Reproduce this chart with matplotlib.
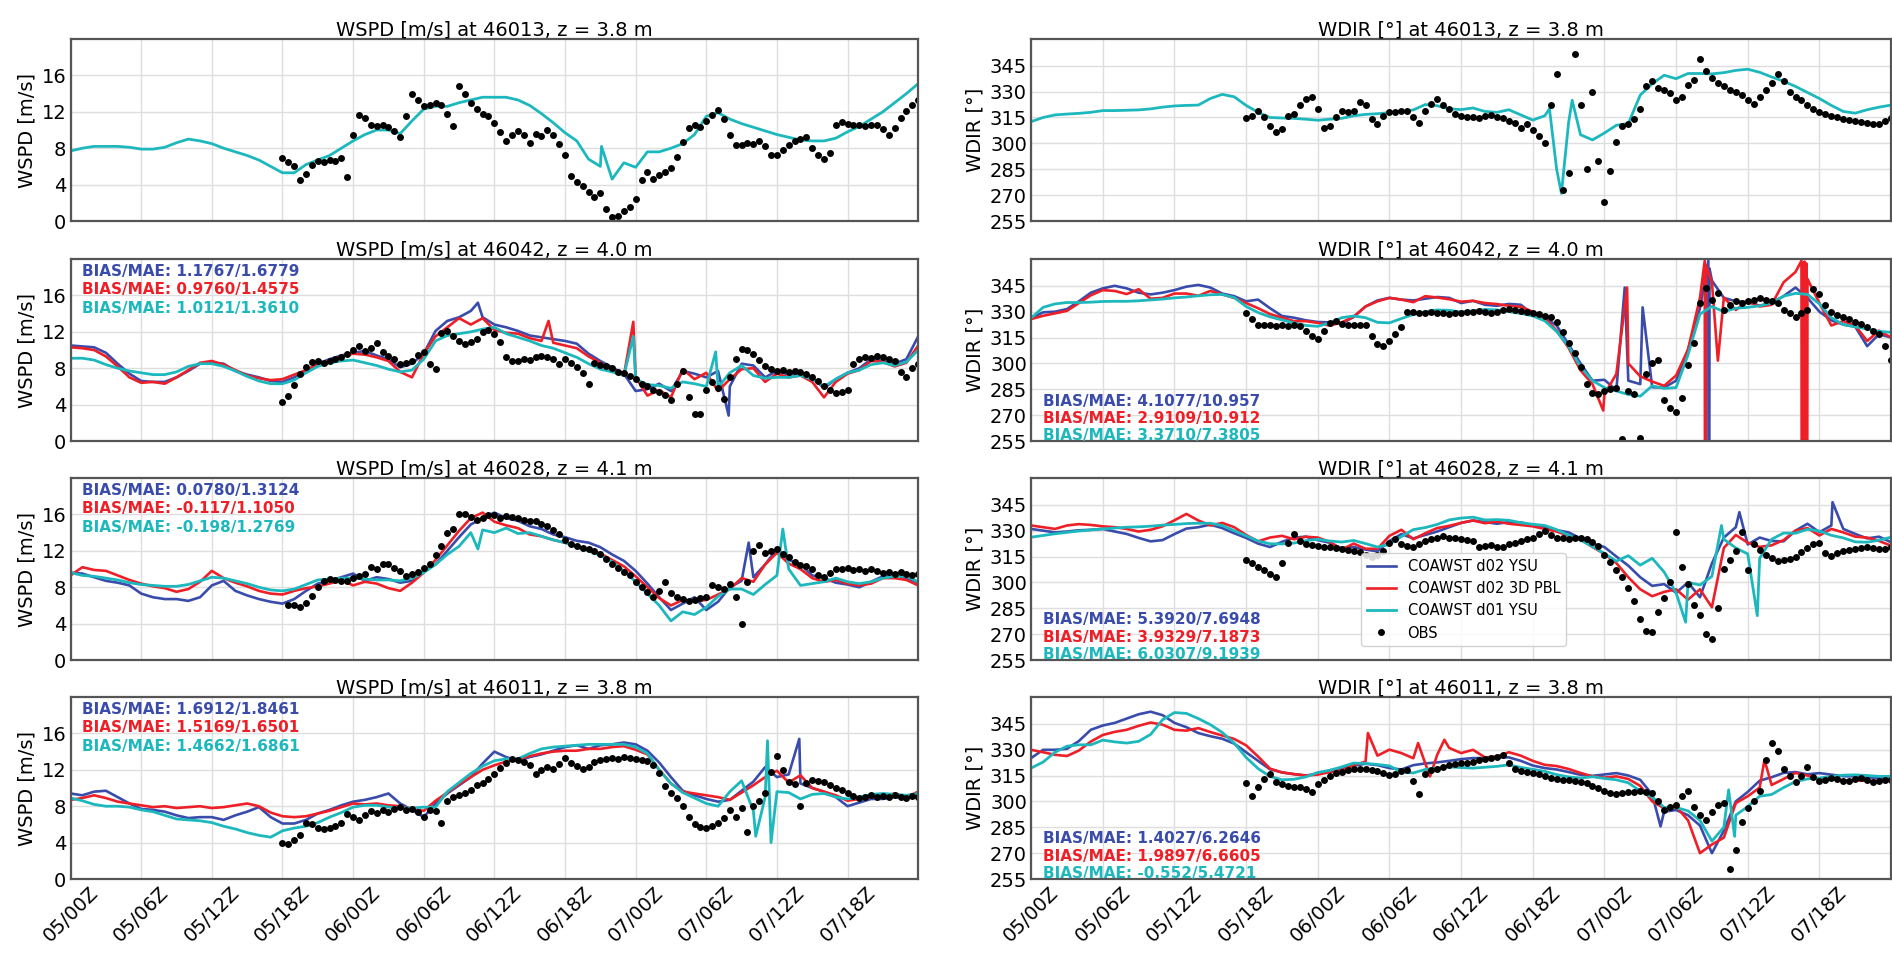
import numpy as np
import matplotlib.pyplot as plt
from matplotlib.ticker import FuncFormatter

# model output is hourly from 05/00Z to 08/00Z, obs every 30 min
# spikes = extra (hour, value) samples read off the plot between the hourly points

# ---------------- 46013 ----------------
wspd_46013_d01 = [7.7, 8.0, 8.2, 8.2, 8.2, 8.1, 7.9, 7.9, 8.1, 8.6,
                  9.0, 8.8, 8.5, 8.0, 7.6, 7.2, 6.7, 6.0, 5.3, 5.3,
                  6.2, 6.7, 7.2, 8.0, 8.8, 9.5, 10.0, 10.0, 9.6, 11.0,
                  12.3, 12.6, 12.6, 13.0, 13.3, 13.6, 13.6, 13.6, 13.3, 12.7,
                  11.8, 10.8, 9.7, 8.8, 6.8, 6.0, 4.6, 6.4, 5.9, 7.6,
                  7.6, 8.0, 8.5, 9.5, 11.5, 11.9, 11.2, 10.7, 10.3, 9.9,
                  9.5, 9.2, 8.9, 8.8, 8.8, 9.1, 9.8, 10.4, 11.2, 12.0,
                  13.0, 14.0, 15.1]
wspd_46013_d01_spikes = [(45.1, 8.2)]
wspd_46013_obs_start = 18.0
wspd_46013_obs = [6.9, 6.5, 6.0, 4.5, 5.2, 6.2, 6.6, 6.5, 6.7, 6.6,
                  6.9, 4.8, 9.5, 11.6, 11.3, 10.6, 10.4, 10.6, 10.3, 9.9,
                  9.2, 11.5, 14.0, 13.3, 12.6, 12.7, 13.0, 12.8, 11.8, 10.4,
                  14.8, 14.0, 13.0, 12.3, 11.8, 11.5, 10.8, 9.8, 8.8, 9.4,
                  9.9, 9.4, 8.6, 9.6, 9.3, 10.0, 9.5, 8.5, 7.2, 5.0,
                  4.3, 3.9, 3.2, 2.6, 3.1, 1.3, 0.4, 0.6, 1.1, 1.5,
                  2.4, 4.5, 5.4, 4.6, 5.1, 5.4, 5.8, 7.0, 8.7, 10.2,
                  10.5, 10.3, 11.0, 11.6, 12.2, 11.2, 9.5, 8.4, 8.3, 8.6,
                  8.5, 8.8, 8.2, 7.3, 7.2, 7.8, 8.4, 8.8, 9.0, 9.2,
                  8.0, 7.2, 6.8, 7.5, 10.6, 10.9, 10.7, 10.5, 10.6, 10.4,
                  10.5, 10.5, 10.1, 9.4, 10.2, 11.3, 12.1, 12.8, 13.3]

wdir_46013_d01 = [312.6, 315.0, 316.5, 317.0, 317.4, 318.0, 319.0, 319.0, 319.2, 319.4,
                  320.0, 321.0, 321.7, 322.0, 322.2, 326.0, 328.4, 327.0, 322.0, 318.0,
                  315.0, 314.7, 314.5, 314.0, 313.4, 314.0, 314.5, 316.0, 316.8, 317.2,
                  317.8, 318.5, 319.4, 322.5, 321.8, 320.0, 319.6, 320.5, 318.5, 318.0,
                  319.5, 316.5, 313.5, 316.0, 285.0, 312.0, 305.0, 302.0, 306.0, 310.5,
                  311.5, 328.0, 334.5, 339.5, 337.5, 340.5, 340.5, 340.3, 341.0, 342.3,
                  343.0, 341.2, 338.5, 336.0, 333.0, 329.5, 326.0, 322.0, 318.5, 317.5,
                  319.5, 321.0, 322.2]
wdir_46013_d01_spikes = [(43.4, 320.0), (44.4, 271.0), (45.3, 325.0)]
wdir_46013_obs_start = 18.0
wdir_46013_obs = [314.5, 316, 319, 315, 310, 306.5, 308.5, 316, 317, 322,
                  326, 327, 320, 309, 310, 315, 319, 318, 319, 324,
                  322, 314, 311, 316, 318, 318, 319, 319, 315, 312,
                  319, 323, 326, 322, 320, 317, 316, 315.5, 315, 314.5,
                  316, 316.5, 315, 314.5, 313, 312, 309, 311, 308, 304,
                  300, 322, 340, 273, 283, 352, 322, 285, 330, 290,
                  266, 284, 301, 310, 311.5, 314, 320, 333, 336, 332,
                  331, 329, 325, 327, 334, 336.5, 349, 342, 338, 335,
                  333, 331, 330, 328, 325, 323, 327, 331, 335, 340,
                  336, 330, 327, 325, 322, 320, 318, 317, 316, 315,
                  314, 313.5, 313, 312.5, 312, 311, 311, 313, 314.5]

# ---------------- 46042 ----------------
wspd_46042_d02_ysu = [10.5, 10.4, 10.3, 9.7, 8.5, 7.4, 6.6, 6.5, 6.5, 7.0,
                      7.7, 8.5, 8.6, 8.5, 7.7, 7.3, 7.0, 6.6, 6.5, 7.0,
                      7.7, 8.5, 9.0, 9.4, 9.7, 9.9, 9.4, 9.0, 8.1, 8.5,
                      9.6, 12.1, 13.2, 13.6, 14.3, 13.6, 12.8, 12.5, 12.1, 11.6,
                      11.4, 11.2, 11.0, 10.7, 9.6, 8.8, 8.1, 7.4, 5.5, 5.7,
                      6.3, 5.5, 7.7, 7.4, 7.0, 7.7, 6.0, 8.5, 8.3, 7.0,
                      7.7, 7.3, 7.5, 7.0, 5.8, 6.8, 7.5, 8.0, 9.0, 8.8,
                      8.5, 9.0, 11.5]
wspd_46042_d02_ysu_spikes = [(34.6, 15.2), (55.9, 2.8)]
wspd_46042_d02_3d = [10.3, 10.2, 10.0, 9.3, 8.2, 7.0, 6.4, 6.5, 6.3, 7.0,
                     7.8, 8.6, 8.8, 8.4, 7.8, 7.2, 6.9, 6.7, 6.8, 7.3,
                     7.8, 8.4, 8.8, 9.3, 9.6, 9.5, 9.2, 8.8, 7.6, 7.0,
                     9.6, 11.5, 12.5, 13.5, 12.8, 13.5, 12.2, 11.9, 11.8, 11.3,
                     11.0, 10.8, 10.5, 10.2, 9.3, 8.6, 7.8, 7.2, 7.0, 5.0,
                     5.6, 4.8, 7.9, 6.8, 7.5, 5.5, 6.8, 7.9, 8.0, 6.5,
                     7.4, 7.0, 7.2, 6.5, 4.8, 6.5, 7.4, 7.8, 8.8, 8.7,
                     8.2, 8.6, 10.5]
wspd_46042_d02_3d_spikes = [(40.6, 13.2), (47.8, 13.1)]
wspd_46042_d01 = [9.1, 9.1, 8.9, 8.4, 8.0, 7.7, 7.5, 7.3, 7.3, 7.6,
                  8.2, 8.5, 8.5, 8.2, 7.7, 7.1, 6.6, 6.3, 6.3, 6.7,
                  7.5, 8.2, 8.6, 8.8, 8.9, 8.6, 8.3, 7.9, 7.6, 7.8,
                  9.0, 11.0, 11.6, 11.8, 12.0, 12.3, 12.5, 11.8, 11.4, 11.0,
                  10.5, 10.2, 9.7, 9.2, 8.5, 7.9, 7.6, 7.2, 6.8, 6.2,
                  6.1, 5.8, 6.5, 6.3, 6.0, 5.9, 7.5, 8.3, 7.2, 6.9,
                  7.0, 7.0, 7.2, 6.8, 6.0, 6.8, 7.5, 7.8, 8.4, 8.6,
                  8.3, 8.7, 10.0]
wspd_46042_d01_spikes = [(47.8, 11.5), (54.8, 9.8)]
wspd_46042_obs_start = 18.0
wspd_46042_obs = [4.3, 5.0, 6.2, 7.4, 8.1, 8.7, 8.8, 8.6, 8.8, 9.0,
                  9.2, 9.6, 10.0, 10.5, 9.9, 10.2, 10.8, 9.8, 9.3, 9.0,
                  8.5, 8.6, 8.8, 9.5, 9.8, 8.5, 7.9, 11.9, 12.1, 11.5,
                  11.0, 10.7, 10.9, 11.2, 12.0, 12.2, 11.8, 10.9, 9.2, 8.8,
                  8.8, 9.0, 8.9, 9.2, 9.4, 9.2, 9.0, 8.5, 9.0, 8.6,
                  8.1, 7.5, 6.3, 8.6, 8.4, 8.2, 8.0, 7.6, 7.5, 7.2,
                  6.8, 6.3, 6.0, 5.6, 5.4, 5.1, 4.5, 6.3, 7.7, 4.8,
                  3.0, 3.0, 5.6, 6.5, 5.8, 4.6, 7.0, 9.0, 10.1, 10.0,
                  9.6, 8.9, 8.3, 7.9, 7.7, 7.8, 7.6, 7.7, 7.6, 7.4,
                  7.0, 6.6, 6.0, 5.6, 5.3, 5.4, 5.6, 8.5, 9.0, 9.2,
                  9.1, 9.3, 9.2, 9.0, 8.8, 7.6, 7.0, 8.0, 8.5]

wdir_46042_d02_ysu = [326.3, 329.6, 330.0, 331.5, 336.0, 341.0, 343.5, 345.0, 343.5, 341.0,
                      340.0, 341.0, 342.5, 344.5, 345.5, 344.0, 340.5, 339.0, 336.0, 337.0,
                      332.0, 327.5, 326.5, 325.0, 324.0, 323.8, 323.0, 327.0, 333.0, 336.5,
                      338.0, 337.0, 336.5, 337.5, 338.5, 338.0, 335.0, 336.3, 334.0, 333.4,
                      334.5, 334.0, 328.5, 326.7, 322.0, 311.0, 300.0, 290.0, 290.5, 284.5,
                      290.0, 288.0, 286.2, 286.0, 290.0, 308.0, 332.0, 348.0, 338.0, 336.0,
                      335.5, 333.5, 335.0, 339.0, 344.0, 338.0, 330.0, 325.0, 322.5, 321.3,
                      310.0, 317.0, 315.0]
wdir_46042_d02_ysu_spikes = [(49.7, 344.0), (51.2, 332.5), (56.7, 359.5), (56.75, 2.0), (56.8, 355.0)]
wdir_46042_d02_3d = [325.7, 327.6, 329.0, 330.5, 335.0, 339.5, 342.5, 342.0, 340.2, 343.0,
                     337.5, 338.0, 340.5, 340.5, 339.2, 342.0, 340.0, 338.0, 335.0, 332.0,
                     328.6, 326.5, 324.5, 324.5, 323.5, 321.9, 323.8, 327.0, 333.0, 336.0,
                     338.0, 337.0, 335.5, 339.0, 338.2, 337.2, 335.8, 336.3, 335.0, 334.4,
                     333.4, 332.8, 330.0, 326.5, 319.0, 309.0, 296.0, 288.0, 282.0, 293.9,
                     300.0, 292.5, 289.5, 287.0, 293.0, 308.0, 338.0, 347.0, 338.2, 331.0,
                     336.0, 333.0, 334.0, 347.0, 353.0, 349.0, 335.0, 322.0, 324.5, 322.0,
                     313.0, 319.0, 315.0]
wdir_46042_d02_3d_spikes = [(47.9, 272.7), (49.9, 344.0), (56.4, 359.5), (56.45, 2.0), (56.5, 357.0),
                            (57.5, 301.6), (64.5, 359.5), (64.55, 3.0), (64.6, 358.0), (64.7, 2.0),
                            (64.75, 359.0), (64.85, 1.0), (64.9, 358.0), (64.95, 4.0)]
wdir_46042_d01 = [326.3, 332.5, 334.5, 335.3, 335.3, 335.5, 335.9, 336.0, 336.0, 336.3,
                  336.8, 337.3, 338.0, 338.5, 339.2, 339.8, 340.0, 338.2, 333.0, 329.5,
                  327.0, 325.2, 323.5, 322.0, 321.5, 323.5, 326.5, 327.5, 326.5, 323.8,
                  323.5, 326.0, 328.4, 330.0, 331.0, 330.8, 329.8, 330.5, 331.3, 331.0,
                  330.0, 329.0, 327.5, 324.7, 318.5, 310.0, 298.0, 290.0, 286.0, 284.0,
                  282.0, 281.0, 287.0, 285.5, 286.0, 305.0, 328.6, 333.0, 330.0, 332.0,
                  332.5, 333.4, 335.0, 339.0, 340.6, 340.0, 334.5, 326.5, 322.5, 321.2,
                  320.0, 318.6, 318.0]
wdir_46042_d01_spikes = []
wdir_46042_obs_start = 18.0
wdir_46042_obs = [329, 326, 322.5, 322, 322, 321.5, 322, 321.5, 322, 321.5,
                  319, 316, 314, 319, 323.5, 324.5, 323, 322, 322, 322.5,
                  322.5, 316, 311, 310, 313, 317, 321, 330, 330, 329.5,
                  329.5, 330, 329.5, 329, 328.5, 329, 329.5, 330, 330, 330.5,
                  330, 329.5, 330, 331, 331.5, 331, 330.5, 330, 329, 328.5,
                  327.5, 327, 324, 318, 312, 306, 298, 288, 283, 282,
                  284, 285, 286, 256, 284, 282, 257, 294, 300, 302,
                  279, 274, 272, 280, 299, 312, 335, 344, 337, 341,
                  331, 334, 336, 335, 336, 337, 338, 337, 336, 335,
                  331, 329, 327, 329, 331, 343, 340, 334, 330, 328,
                  327, 326, 324, 323, 321, 319, 317, 310, 302]

# ---------------- 46028 ----------------
wspd_46028_d02_ysu = [9.6, 9.5, 9.1, 8.7, 8.5, 8.2, 7.3, 6.9, 6.7, 6.7,
                      6.5, 6.9, 8.2, 8.7, 7.6, 7.1, 6.7, 6.4, 6.2, 6.7,
                      7.6, 8.4, 8.7, 9.1, 9.5, 8.7, 9.1, 8.9, 8.5, 8.7,
                      9.8, 10.5, 12.0, 13.5, 14.9, 15.6, 16.2, 15.6, 15.3, 14.7,
                      14.4, 13.8, 13.5, 13.1, 12.9, 12.4, 11.6, 10.9, 9.8, 8.4,
                      6.9, 5.5, 6.2, 6.9, 5.5, 6.4, 8.0, 8.7, 9.1, 10.5,
                      12.2, 11.0, 10.5, 9.3, 9.0, 8.5, 8.3, 8.0, 8.6, 9.2,
                      9.4, 9.0, 8.5]
wspd_46028_d02_ysu_spikes = [(57.6, 12.9)]
wspd_46028_d02_3d = [9.3, 10.2, 9.9, 9.8, 9.3, 8.8, 8.4, 8.1, 7.9, 7.5,
                     7.8, 8.6, 9.8, 9.0, 8.5, 8.1, 7.6, 7.3, 7.2, 7.6,
                     7.9, 8.1, 8.4, 8.8, 8.2, 8.6, 8.4, 7.9, 7.6, 8.5,
                     9.6, 11.0, 12.6, 14.2, 15.6, 16.2, 15.2, 14.8, 14.5, 13.8,
                     13.6, 13.2, 12.9, 12.5, 12.2, 11.7, 11.0, 10.3, 9.2, 8.0,
                     6.8, 6.0, 6.6, 6.5, 6.6, 7.2, 7.8, 9.0, 8.6, 10.5,
                     11.8, 10.6, 10.0, 9.0, 8.6, 8.8, 8.4, 8.2, 8.4, 9.0,
                     9.0, 8.8, 8.2]
wspd_46028_d02_3d_spikes = []
wspd_46028_d01 = [9.6, 9.3, 9.2, 9.0, 8.8, 8.5, 8.3, 8.2, 8.1, 8.1,
                  8.3, 8.7, 9.1, 9.0, 8.7, 8.4, 8.0, 7.7, 7.6, 7.8,
                  8.3, 8.8, 8.9, 9.0, 9.0, 8.9, 8.8, 8.8, 8.7, 9.0,
                  9.6, 10.5, 11.6, 12.5, 14.0, 14.3, 14.0, 14.5, 13.9, 14.0,
                  13.6, 13.2, 12.9, 12.4, 12.0, 11.5, 10.8, 9.8, 8.6, 7.3,
                  6.0, 4.3, 5.3, 5.0, 5.8, 7.0, 7.8, 7.8, 7.2, 8.3,
                  9.3, 10.0, 8.2, 8.4, 8.6, 9.0, 8.6, 8.4, 8.6, 9.0,
                  9.2, 9.2, 8.6]
wspd_46028_d01_spikes = [(34.6, 12.2), (60.5, 14.4)]
wspd_46028_obs_start = 18.5
wspd_46028_obs = [6.1, 6.0, 5.8, 6.3, 7.0, 8.0, 8.7, 8.9, 8.8, 8.7,
                  8.7, 9.0, 9.2, 9.4, 10.2, 10.0, 10.6, 10.5, 10.1, 9.8,
                  9.2, 9.4, 9.7, 10.1, 10.6, 11.5, 12.5, 14.0, 14.4, 16.1,
                  16.0, 15.7, 15.4, 15.6, 15.9, 15.9, 15.6, 15.8, 15.7, 15.6,
                  15.4, 15.3, 15.3, 15.0, 14.7, 14.3, 13.9, 13.2, 12.8, 12.5,
                  12.3, 12.2, 12.0, 11.6, 11.1, 10.6, 10.1, 9.7, 9.3, 8.6,
                  8.0, 7.5, 6.9, 7.6, 8.6, 7.4, 6.9, 6.7, 6.5, 6.6,
                  6.8, 6.9, 8.2, 8.0, 7.8, 8.4, 6.9, 4.0, 8.6, 12.0,
                  12.6, 11.8, 12.0, 12.2, 11.6, 11.3, 10.8, 10.4, 10.3, 10.0,
                  9.3, 9.1, 9.6, 10.0, 10.0, 10.1, 9.9, 10.0, 9.8, 10.0,
                  9.8, 9.6, 9.7, 9.5, 9.7, 9.5, 9.3, 9.4]

wdir_46028_d02_ysu = [331.0, 330.0, 329.0, 329.5, 330.2, 330.5, 331.0, 329.5, 328.1, 325.8,
                      323.8, 324.5, 328.0, 331.2, 332.0, 333.5, 331.5, 328.5, 325.8, 322.5,
                      320.5, 323.5, 326.0, 326.5, 324.5, 323.0, 319.8, 320.5, 319.0, 318.0,
                      324.0, 328.0, 325.5, 327.5, 329.5, 332.0, 334.5, 335.9, 335.0, 334.0,
                      335.0, 334.8, 333.0, 332.0, 330.3, 329.0, 325.5, 322.5, 320.5, 315.0,
                      309.7, 303.0, 298.0, 299.0, 294.0, 300.0, 291.4, 311.0, 326.0, 332.0,
                      322.0, 326.0, 324.0, 323.8, 330.0, 334.0, 329.1, 333.0, 331.0, 328.1,
                      325.5, 326.5, 323.3]
wdir_46028_d02_ysu_spikes = [(59.3, 340.7), (67.1, 346.5)]
wdir_46028_d02_3d = [333.0, 332.0, 331.0, 333.0, 333.8, 333.3, 332.5, 332.0, 331.0, 329.5,
                     330.5, 332.5, 336.0, 339.7, 335.9, 333.0, 334.5, 332.0, 327.5, 323.8,
                     326.0, 327.0, 325.0, 326.5, 326.0, 323.5, 319.0, 322.5, 319.5, 319.5,
                     327.0, 330.5, 325.0, 328.5, 331.5, 332.8, 334.5, 335.9, 334.3, 335.3,
                     334.0, 333.3, 332.5, 331.0, 329.5, 327.0, 325.0, 320.5, 316.5, 311.2,
                     303.0, 296.0, 292.0, 294.5, 296.0, 290.0, 296.0, 285.6, 320.0, 327.5,
                     323.0, 320.6, 321.5, 324.5, 330.0, 331.5, 327.2, 331.0, 329.0, 326.5,
                     326.0, 324.0, 321.3]
wdir_46028_d02_3d_spikes = []
wdir_46028_d01 = [326.2, 327.2, 328.2, 329.0, 329.8, 330.4, 331.0, 331.5, 332.0, 332.2,
                  332.6, 333.2, 333.6, 334.1, 334.3, 334.3, 333.0, 330.0, 327.0, 324.0,
                  322.4, 322.3, 322.8, 324.2, 325.0, 324.0, 323.4, 324.3, 322.5, 320.5,
                  322.0, 326.6, 330.6, 331.8, 333.6, 336.2, 337.3, 337.8, 336.2, 336.4,
                  336.0, 334.6, 333.7, 333.0, 330.6, 327.4, 324.5, 320.8, 316.8, 312.3,
                  315.5, 310.0, 314.0, 306.0, 294.0, 300.0, 298.5, 303.5, 325.0, 320.0,
                  316.5, 314.0, 325.0, 328.6, 328.5, 330.8, 329.8, 327.3, 325.8, 323.5,
                  323.3, 324.5, 326.2]
wdir_46028_d01_spikes = [(54.8, 276.9), (57.8, 333.0), (60.8, 280.7)]
wdir_46028_obs_start = 18.0
wdir_46028_obs = [313, 311.5, 309, 307, 305, 303, 311, 323, 328, 324,
                  322, 321.5, 321, 320.5, 320.5, 320, 319.5, 318.5, 318, 317.5,
                  316, 314.5, 316, 318, 323, 325, 322, 321, 320.5, 322,
                  324, 325, 326, 327, 326, 325.5, 325, 324.5, 324, 320.5,
                  321, 321.5, 320.5, 320.5, 322, 323, 324, 325, 326, 328,
                  330, 327.5, 326, 325.5, 325, 325.5, 326, 325, 323.5, 321,
                  316, 312, 307, 303, 297, 289, 279, 272, 271, 283,
                  291, 300, 329, 309, 299, 287, 281, 270, 267, 285,
                  308, 313, 318, 329, 307, 322, 319, 316, 314, 312.5,
                  313, 313.5, 315, 317.5, 320, 322, 323, 317, 315.5, 317,
                  318, 318.5, 319.5, 320, 320.5, 320, 319.5, 319.5, 320.5]

# ---------------- 46011 ----------------
wspd_46011_d02_ysu = [9.4, 9.2, 9.6, 9.7, 9.0, 8.3, 7.7, 7.6, 7.4, 7.0,
                      6.7, 6.8, 6.8, 6.5, 7.0, 7.4, 7.9, 6.8, 6.1, 6.1,
                      6.5, 7.2, 7.6, 8.1, 8.5, 8.7, 9.0, 9.4, 8.3, 7.6,
                      6.8, 8.3, 9.4, 10.3, 11.2, 12.7, 14.0, 13.4, 13.0, 13.4,
                      13.7, 14.1, 14.5, 14.7, 14.3, 14.7, 14.8, 15.0, 14.8, 14.1,
                      12.8, 11.2, 9.7, 9.2, 8.8, 8.5, 8.7, 9.7, 10.7, 12.3,
                      11.2, 11.5, 10.5, 10.0, 9.6, 9.0, 8.0, 8.4, 8.8, 8.8,
                      9.0, 8.9, 9.4]
wspd_46011_d02_ysu_spikes = [(61.9, 15.4)]
wspd_46011_d02_3d = [8.7, 8.9, 9.2, 8.9, 8.5, 8.3, 8.1, 7.9, 8.0, 7.8,
                     7.9, 8.0, 7.8, 7.9, 8.1, 8.3, 8.0, 7.3, 6.9, 6.8,
                     6.9, 7.2, 7.5, 7.9, 8.3, 8.2, 8.3, 8.1, 8.0, 7.7,
                     7.5, 8.6, 9.5, 10.4, 11.2, 12.0, 12.5, 12.9, 13.2, 13.5,
                     13.8, 14.0, 14.1, 14.1, 14.3, 14.3, 14.5, 14.6, 14.2, 13.7,
                     12.0, 10.5, 9.6, 9.4, 9.2, 9.0, 8.7, 9.5, 10.3, 11.2,
                     11.9, 10.6, 11.4, 10.0, 9.6, 9.2, 8.6, 8.8, 9.0, 9.1,
                     9.4, 9.0, 9.6]
wspd_46011_d02_3d_spikes = []
wspd_46011_d01 = [8.9, 8.6, 8.2, 8.0, 8.0, 7.9, 7.6, 7.4, 7.0, 6.6,
                  6.5, 6.4, 6.2, 5.8, 5.5, 5.1, 4.8, 4.6, 5.3, 5.6,
                  5.8, 6.2, 6.8, 7.3, 7.9, 8.1, 8.1, 7.9, 7.8, 7.8,
                  7.9, 7.9, 9.6, 10.6, 11.6, 12.4, 13.0, 13.2, 13.2, 13.8,
                  14.3, 14.5, 14.6, 14.7, 14.8, 14.8, 14.8, 14.8, 14.5, 13.8,
                  12.0, 10.5, 9.5, 8.9, 8.3, 8.0, 9.6, 10.8, 7.5, 9.0,
                  9.6, 9.5, 8.8, 9.3, 9.4, 9.0, 8.8, 9.0, 9.3, 9.4,
                  9.3, 9.2, 9.4]
wspd_46011_d01_spikes = [(58.2, 4.7), (59.2, 15.2), (59.5, 4.0)]
wspd_46011_obs_start = 18.0
wspd_46011_obs = [4.0, 3.8, 4.3, 4.8, 6.2, 6.0, 5.6, 5.5, 5.6, 5.8,
                  6.2, 7.2, 6.8, 6.5, 7.0, 7.5, 7.3, 7.6, 7.4, 7.7,
                  7.9, 7.6, 7.7, 7.4, 6.8, 7.6, 7.5, 6.2, 8.6, 9.0,
                  9.2, 9.5, 9.8, 10.3, 10.6, 11.0, 11.5, 12.2, 12.8, 13.2,
                  13.1, 12.9, 12.5, 11.5, 12.0, 12.3, 12.1, 12.6, 13.3, 12.8,
                  12.4, 12.1, 12.3, 12.9, 13.1, 13.2, 13.3, 13.2, 13.4, 13.3,
                  13.2, 13.1, 13.0, 12.5, 11.6, 10.2, 9.5, 8.9, 8.0, 6.8,
                  6.0, 5.7, 5.6, 5.8, 6.2, 6.7, 7.6, 6.8, 7.8, 5.2,
                  8.0, 8.6, 9.4, 11.8, 13.5, 12.0, 10.7, 10.4, 8.0, 10.6,
                  10.9, 10.8, 10.7, 10.3, 10.0, 9.8, 9.5, 9.1, 8.9, 9.0,
                  9.2, 9.0, 9.1, 9.0, 9.2, 9.0, 8.9, 9.1, 9.0]

wdir_46011_d02_ysu = [325.1, 329.9, 329.9, 330.5, 335.0, 341.5, 344.0, 345.5, 348.0, 350.5,
                      352.0, 350.0, 345.5, 343.0, 339.6, 337.8, 336.3, 333.5, 328.5, 323.5,
                      318.6, 316.8, 315.8, 315.0, 316.0, 318.0, 319.2, 320.7, 321.8, 321.0,
                      319.3, 318.5, 321.0, 322.0, 322.6, 323.5, 324.5, 325.1, 325.1, 325.7,
                      325.5, 323.5, 320.8, 319.3, 318.5, 317.0, 315.4, 314.8, 315.6, 316.4,
                      315.0, 312.5, 304.0, 294.0, 295.0, 292.0, 286.0, 270.0, 283.0, 300.0,
                      305.5, 312.0, 314.0, 316.5, 317.0, 315.7, 316.4, 315.5, 314.6, 314.5,
                      314.0, 313.5, 313.5]
wdir_46011_d02_ysu_spikes = [(52.7, 285.5)]
wdir_46011_d02_3d = [329.9, 328.5, 327.0, 326.3, 329.5, 334.7, 338.5, 340.3, 341.5, 343.8,
                     345.7, 344.5, 341.5, 341.0, 342.5, 340.2, 338.2, 336.2, 332.5, 326.0,
                     319.0, 316.8, 315.8, 315.0, 315.5, 317.0, 318.0, 321.0, 323.0, 326.5,
                     330.0, 328.0, 325.0, 322.0, 327.0, 331.0, 328.0, 329.9, 325.5, 326.0,
                     328.5, 326.5, 323.5, 321.2, 320.5, 318.8, 316.5, 314.5, 313.8, 314.5,
                     313.0, 309.0, 300.0, 296.0, 297.1, 289.0, 270.0, 275.0, 279.0, 299.0,
                     303.0, 308.0, 309.5, 313.0, 316.5, 315.0, 312.5, 314.2, 312.0, 312.3,
                     311.8, 312.0, 312.5]
wdir_46011_d02_3d_spikes = [(28.2, 339.6), (32.4, 333.8), (33.4, 314.5), (34.6, 335.7), (61.4, 324.1)]
wdir_46011_d01 = [319.3, 322.8, 328.5, 332.0, 332.8, 332.8, 335.5, 334.5, 333.8, 334.8,
                  338.8, 347.3, 351.5, 351.0, 348.0, 344.5, 340.0, 333.8, 325.5, 319.0,
                  314.5, 312.5, 312.8, 314.2, 316.8, 318.0, 320.0, 322.2, 322.0, 321.4,
                  320.6, 317.0, 316.5, 318.5, 319.3, 320.0, 319.6, 319.3, 319.8, 320.3,
                  321.2, 319.7, 318.6, 317.4, 315.5, 314.2, 313.5, 314.3, 313.3, 312.5,
                  310.8, 306.0, 302.5, 296.5, 296.5, 294.5, 289.0, 277.0, 285.0, 292.0,
                  297.0, 303.0, 304.0, 308.0, 311.5, 313.0, 313.5, 314.5, 315.2, 315.4,
                  315.0, 314.5, 314.5]
wdir_46011_d01_spikes = [(58.4, 306.7), (58.9, 279.7)]
wdir_46011_obs_start = 18.0
wdir_46011_obs = [310.5, 303, 308.5, 313, 316, 311, 310, 309, 308.5, 308.5,
                  307, 305.5, 310, 312.5, 315, 316.5, 317, 318, 318.5, 319,
                  319, 318, 317.5, 316.5, 315.5, 316, 317.5, 318, 312, 304,
                  316, 318, 319, 320, 321, 321.5, 322, 322.5, 323, 324,
                  324.5, 325, 326, 327, 322, 319, 317.5, 317, 316.5, 316,
                  315, 313.5, 313, 312.5, 312.5, 312, 311.5, 310.5, 309, 307.5,
                  306, 305, 304.5, 305, 305.5, 305.5, 306, 305.5, 305, 300,
                  295, 297, 298, 303, 306, 297, 292, 289, 294, 298,
                  299, 261, 272, 288, 296, 300, 306, 324, 334, 329,
                  319, 315, 311, 315, 320, 314, 312, 312.5, 313.5, 313,
                  312, 312, 313, 313.5, 312.5, 311.5, 312, 312.5, 312.5]

stations = ['46013', '46042', '46028', '46011']
heights = ['3.8', '4.0', '4.1', '3.8']

stats_wspd = {
    '46042': ['1.1767/1.6779', '0.9760/1.4575', '1.0121/1.3610'],
    '46028': ['0.0780/1.3124', '-0.117/1.1050', '-0.198/1.2769'],
    '46011': ['1.6912/1.8461', '1.5169/1.6501', '1.4662/1.6861'],
}
stats_wdir = {
    '46042': ['4.1077/10.957', '2.9109/10.912', '3.3710/7.3805'],
    '46028': ['5.3920/7.6948', '3.9329/7.1873', '6.0307/9.1939'],
    '46011': ['1.4027/6.2646', '1.9897/6.6605', '-0.552/5.4721'],
}

c_ysu = '#3a4cab'
c_3d = '#ee1f26'
c_d01 = '#1cb8bd'
run_colors = [c_ysu, c_3d, c_d01]
run_labels = ['COAWST d02 YSU', 'COAWST d02 3D PBL', 'COAWST d01 YSU']


def with_spikes(vals, spikes):
    t = np.arange(len(vals), dtype=float)
    v = np.array(vals, dtype=float)
    if spikes:
        st, sv = zip(*spikes)
        t = np.concatenate([t, st])
        v = np.concatenate([v, sv])
        o = np.argsort(t, kind='stable')
        t, v = t[o], v[o]
    return t, v


def hour_label(h, pos):
    h = int(round(h))
    return '%02d/%02dZ' % (5 + h // 24, h % 24)


g = globals()
fig = plt.figure(figsize=(18.92, 9.63), dpi=100)
lefts = [0.0373, 0.545]
widths = [0.448, 0.4545]
bottoms = [0.7705, 0.542, 0.3146, 0.0872]
ax_h = 0.189

for row, st in enumerate(stations):
    for col, var in enumerate(['wspd', 'wdir']):
        ax = fig.add_axes([lefts[col], bottoms[row], widths[col], ax_h])
        runs = ['d02_ysu', 'd02_3d', 'd01']
        handles = []
        for k, run in enumerate(runs):
            name = '%s_%s_%s' % (var, st, run)
            if name not in g:
                continue
            t, v = with_spikes(g[name], g[name + '_spikes'])
            lw = 2.0 if run == 'd01' else 1.9
            ln, = ax.plot(t, v, color=run_colors[k], lw=lw, label=run_labels[k])
            handles.append(ln)
        obs = np.array(g['%s_%s_obs' % (var, st)], dtype=float)
        t_obs = g['%s_%s_obs_start' % (var, st)] + 0.5 * np.arange(len(obs))
        ob, = ax.plot(t_obs, obs, 'o', color='k', ms=5.0, mew=0, label='OBS')
        handles.append(ob)

        ax.set_xlim(0, 72)
        ax.set_xticks(np.arange(0, 72, 6))
        ax.xaxis.set_major_formatter(FuncFormatter(hour_label))
        if var == 'wspd':
            ax.set_ylim(0, 20)
            ax.set_yticks([0, 4, 8, 12, 16])
            ax.set_ylabel('WSPD [m/s]', fontsize=14)
            ax.set_title('WSPD [m/s] at %s, z = %s m' % (st, heights[row]), fontsize=14, pad=2)
        else:
            ax.set_ylim(255, 360.5)
            ax.set_yticks(np.arange(255, 346, 15))
            ax.set_ylabel('WDIR [°]', fontsize=14)
            ax.set_title('WDIR [°] at %s, z = %s m' % (st, heights[row]), fontsize=14, pad=2)

        ax.grid(True, color='#dedede', lw=1.0)
        ax.set_axisbelow(True)
        for sp in ax.spines.values():
            sp.set_color('#555555')
            sp.set_linewidth(1.6)
        ax.tick_params(length=0, labelsize=14, pad=3)
        if row < 3:
            ax.set_xticklabels([])
        else:
            plt.setp(ax.get_xticklabels(), rotation=45)

        # bias / mae annotations
        if var == 'wspd' and st in stats_wspd:
            for k, s in enumerate(stats_wspd[st]):
                ax.text(0.0135, 0.93 - 0.1 * k, 'BIAS/MAE: ' + s, transform=ax.transAxes,
                        color=run_colors[k], fontsize=11, fontweight='bold', va='center')
        if var == 'wdir' and st in stats_wdir:
            for k, s in enumerate(stats_wdir[st]):
                ax.text(0.014, 0.22 - 0.096 * k, 'BIAS/MAE: ' + s, transform=ax.transAxes,
                        color=run_colors[k], fontsize=11, fontweight='bold', va='center')

        if var == 'wdir' and st == '46028':
            ax.legend(handles=handles, loc='lower left', bbox_to_anchor=(0.375, 0.035),
                      fontsize=10.5, framealpha=0.85, handlelength=2.0)

fig.savefig('out.png', dpi=100)
